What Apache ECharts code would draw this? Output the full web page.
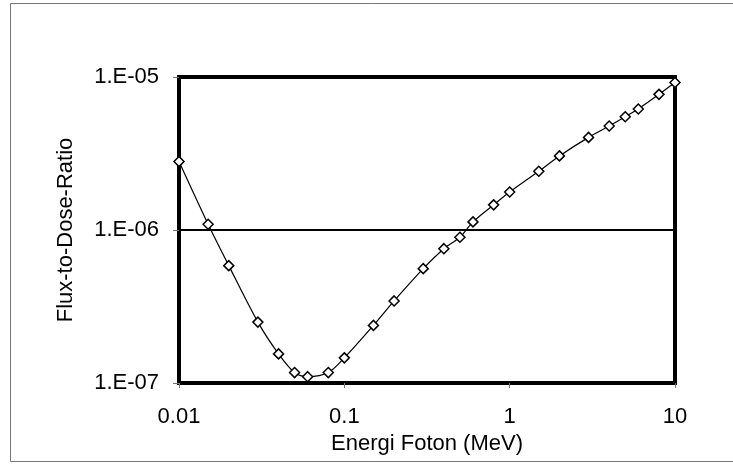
<!DOCTYPE html>
<html>
<head>
<meta charset="utf-8">
<script src="https://cdn.jsdelivr.net/npm/echarts@6/dist/echarts.min.js"></script>
<style>html,body{margin:0;padding:0;background:#fff}#c{width:733px;height:466px}</style>
</head>
<body>
<div id="c"></div>
<script>
var energy = [0.01,0.015,0.02,0.03,0.04,0.05,0.06,0.08,0.1,0.15,0.2,0.3,0.4,0.5,0.6,0.8,1,1.5,2,3,4,5,6,8,10];
var ratio = [2.8e-6,1.09e-6,5.85e-7,2.5e-7,1.55e-7,1.17e-7,1.10e-7,1.17e-7,1.46e-7,2.38e-7,3.44e-7,5.59e-7,7.55e-7,8.96e-7,1.13e-6,1.46e-6,1.77e-6,2.42e-6,3.05e-6,4.03e-6,4.78e-6,5.5e-6,6.18e-6,7.7e-6,9.2e-6];
var xTickLabels = {'-2':'0.01','-1':'0.1','0':'1','1':'10'};
var yTickLabels = {'-5':'1.E-05','-6':'1.E-06','-7':'1.E-07'};
var xName = 'Energi Foton (MeV)';
var yName = 'Flux-to-Dose-Ratio';

var pts = energy.map(function(e,i){return [e, ratio[i]];});
var font = 'Liberation Sans';
var chart = echarts.init(document.getElementById('c'));
chart.setOption({
  animation: false,
  backgroundColor: '#fff',
  graphic: [{
    type: 'rect', silent: true, z: -10,
    shape: {x: 10.5, y: 3.5, width: 740, height: 458},
    style: {fill: 'none', stroke: '#777', lineWidth: 1}
  }],
  grid: {
    left: 179, right: 58, top: 77, bottom: 83,
    show: true, borderColor: '#000', borderWidth: 4, backgroundColor: 'transparent'
  },
  xAxis: {
    type: 'log', logBase: 10, min: 0.01, max: 10, splitNumber: 3,
    name: xName, nameLocation: 'middle', nameGap: 50,
    nameTextStyle: {fontFamily: font, fontSize: 22, color: '#000'},
    axisLine: {show: false},
    axisTick: {show: true, length: 5, lineStyle: {color: '#777', width: 1}},
    splitLine: {show: false},
    axisLabel: {
      fontFamily: font, fontSize: 22, color: '#000', margin: 23,
      formatter: function(v){ var k = String(Math.round(Math.log10(v))); return xTickLabels[k] || ''; }
    }
  },
  yAxis: {
    type: 'log', logBase: 10, min: 1e-7, max: 1e-5, splitNumber: 2,
    name: yName, nameLocation: 'middle', nameGap: 102, nameRotate: 90,
    nameTextStyle: {fontFamily: font, fontSize: 22, color: '#000'},
    axisLine: {show: false},
    axisTick: {show: true, length: 6, lineStyle: {color: '#777', width: 1}},
    splitLine: {show: true, lineStyle: {color: '#000', width: 2}},
    axisLabel: {
      fontFamily: font, fontSize: 22, color: '#000', margin: 20,
      formatter: function(v){ var k = String(Math.round(Math.log10(v))); return yTickLabels[k] || ''; }
    }
  },
  series: [{
    type: 'line', data: pts, smooth: 0.3, clip: false,
    symbol: 'diamond', symbolSize: 10,
    lineStyle: {color: '#000', width: 1.2},
    itemStyle: {color: '#fff', borderColor: '#000', borderWidth: 1.5}
  }]
});
</script>
</body>
</html>
